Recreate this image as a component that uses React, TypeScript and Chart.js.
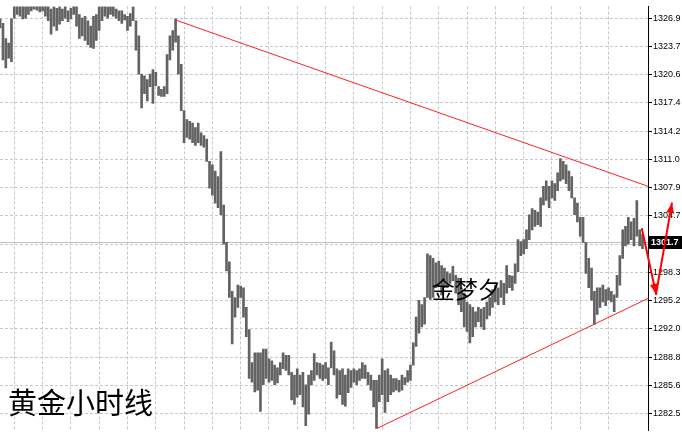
import React, { useEffect, useRef } from "react";
import { Chart, registerables } from "chart.js";

Chart.register(...registerables);

// Hourly gold bars (high / low), one per hour, oldest first
const barHigh = [
  1326.8, 1326.3, 1324.6, 1324.1, 1326.8, 1328.5, 1328.8, 1328.6, 1328.4, 1328.5,
  1328.7, 1329.0, 1329.2, 1329.0, 1328.8, 1328.9, 1328.7, 1328.4, 1327.9, 1328.2,
  1328.0, 1328.2, 1327.9, 1328.3, 1327.7, 1328.0, 1328.3, 1328.4, 1327.3, 1326.9,
  1327.1, 1326.6, 1326.0, 1327.1, 1327.3, 1328.2, 1328.5, 1328.4, 1328.2, 1328.2,
  1328.2, 1327.9, 1327.7, 1327.7, 1327.3, 1327.1, 1327.4, 1328.2, 1326.6, 1324.9,
  1320.6, 1320.4, 1320.0, 1320.6, 1321.1, 1320.8, 1319.2, 1318.9, 1319.2, 1322.8,
  1324.9, 1325.5, 1326.8, 1324.9, 1321.7, 1316.5, 1315.5, 1315.3, 1315.1, 1314.6,
  1315.1, 1314.0, 1313.7, 1313.3, 1310.8, 1310.4, 1309.7, 1309.1, 1311.9, 1305.9,
  1301.7, 1299.5, 1296.2, 1295.5, 1296.9, 1296.8, 1296.6, 1294.4, 1291.9, 1288.2,
  1289.3, 1289.3, 1289.3, 1289.7, 1289.7, 1288.6, 1288.4, 1287.9, 1287.6, 1288.2,
  1289.3, 1289.0, 1289.0, 1287.1, 1286.8, 1287.5, 1286.8, 1287.1, 1285.7, 1286.8,
  1287.3, 1289.2, 1288.2, 1288.1, 1287.9, 1288.2, 1287.6, 1290.5, 1289.5, 1287.5,
  1287.3, 1287.5, 1286.8, 1287.5, 1287.3, 1287.5, 1287.3, 1287.5, 1288.2, 1287.9,
  1287.1, 1286.8, 1286.2, 1286.2, 1286.8, 1288.6, 1287.3, 1287.5, 1286.8, 1286.4,
  1286.4, 1286.2, 1286.8, 1286.5, 1287.3, 1287.9, 1290.4, 1293.3, 1295.2, 1294.7,
  1295.5, 1300.4, 1300.2, 1299.9, 1299.4, 1299.6, 1299.1, 1298.8, 1298.4, 1298.2,
  1299.0, 1298.0, 1297.7, 1296.6, 1296.0, 1295.0, 1294.7, 1294.4, 1293.9, 1294.4,
  1294.2, 1294.4, 1295.0, 1295.5, 1296.4, 1296.9, 1296.6, 1297.4, 1297.1, 1299.1,
  1298.0, 1297.9, 1299.3, 1302.0, 1301.8, 1302.0, 1303.1, 1304.8, 1305.5, 1305.3,
  1305.1, 1306.7, 1308.0, 1308.6, 1308.0, 1308.6, 1308.3, 1309.5, 1311.1, 1310.8,
  1310.4, 1309.7, 1309.1, 1306.7, 1306.1, 1304.5, 1304.5, 1301.7, 1299.9, 1298.8,
  1296.2, 1296.6, 1296.6, 1296.9, 1296.4, 1296.6, 1296.2, 1295.8, 1298.0, 1300.2,
  1303.1, 1303.5, 1304.5, 1304.0, 1304.4, 1306.4, 1303.1, 1302.6,
];

const barLow = [
  1325.8, 1322.2, 1321.3, 1322.4, 1322.0, 1326.9, 1327.3, 1327.1, 1326.8, 1326.9,
  1327.3, 1327.7, 1327.9, 1327.8, 1327.6, 1327.7, 1327.1, 1326.6, 1325.1, 1326.0,
  1325.5, 1326.2, 1326.6, 1326.9, 1326.5, 1326.8, 1327.3, 1326.0, 1324.6, 1324.9,
  1324.4, 1323.9, 1323.6, 1323.5, 1324.4, 1325.5, 1326.6, 1327.1, 1326.9, 1327.3,
  1327.1, 1326.9, 1326.6, 1326.3, 1326.7, 1325.5, 1326.0, 1326.6, 1323.3, 1320.6,
  1316.8, 1318.4, 1317.6, 1319.2, 1317.3, 1319.3, 1318.2, 1318.1, 1318.1, 1318.4,
  1322.2, 1323.3, 1324.2, 1320.6, 1316.5, 1312.9, 1313.5, 1313.3, 1312.9, 1312.6,
  1312.9, 1312.6, 1312.4, 1310.8, 1307.8, 1307.0, 1306.1, 1305.6, 1304.8, 1301.5,
  1298.5, 1295.5, 1290.3, 1293.3, 1294.4, 1295.5, 1293.3, 1291.1, 1286.4, 1286.0,
  1284.9, 1285.1, 1282.7, 1285.7, 1286.4, 1286.0, 1286.2, 1285.7, 1285.9, 1286.8,
  1287.5, 1287.3, 1286.8, 1284.0, 1283.5, 1284.3, 1284.6, 1283.2, 1281.1, 1282.4,
  1285.7, 1286.2, 1286.8, 1286.4, 1286.2, 1286.4, 1285.7, 1287.6, 1286.8, 1284.2,
  1284.6, 1283.5, 1283.3, 1284.8, 1285.4, 1286.0, 1285.7, 1286.2, 1286.4, 1286.4,
  1285.7, 1285.1, 1283.2, 1280.8, 1283.8, 1284.6, 1282.6, 1283.8, 1284.6, 1284.9,
  1285.1, 1284.9, 1285.1, 1285.7, 1286.0, 1286.2, 1287.9, 1290.0, 1291.5, 1292.2,
  1292.5, 1295.5, 1295.3, 1295.5, 1296.6, 1296.8, 1295.8, 1296.6, 1296.6, 1297.1,
  1297.4, 1296.0, 1294.7, 1293.9, 1292.2, 1291.7, 1290.4, 1291.1, 1292.2, 1292.8,
  1292.2, 1291.9, 1293.1, 1293.5, 1294.4, 1295.0, 1294.7, 1295.5, 1294.7, 1296.0,
  1296.6, 1296.3, 1297.1, 1298.4, 1300.2, 1300.4, 1301.0, 1302.0, 1303.1, 1303.5,
  1303.7, 1303.5, 1305.9, 1306.4, 1305.6, 1306.7, 1306.4, 1307.5, 1308.6, 1308.8,
  1308.3, 1307.5, 1306.7, 1304.8, 1304.0, 1302.4, 1301.7, 1298.2, 1296.6, 1295.2,
  1292.5, 1293.6, 1294.4, 1295.0, 1294.6, 1295.2, 1295.0, 1293.9, 1295.5, 1296.9,
  1299.9, 1301.3, 1301.5, 1302.0, 1301.3, 1302.4, 1301.3, 1301.0,
];

const priceTicks = [
  1326.9, 1323.7, 1320.6, 1317.4, 1314.2, 1311.0, 1307.9, 1304.7,
  1301.5, 1298.3, 1295.2, 1292.0, 1288.8, 1285.6, 1282.5,
];
const timeGridBars = [5, 15, 25, 35, 45, 55, 65, 75, 85, 95, 105, 115, 125, 135, 145, 155, 165, 175, 185, 195, 205, 215];
const currentPrice = 1301.7;

// annotation points: [bar index, price]
const upperTrend = [[61.8, 1326.7], [228.95, 1308.0]];
const lowerTrend = [[133.2, 1280.8], [228.95, 1295.4]];
const arrowPath = [[226.8, 1303.2], [231.8, 1295.9], [237.4, 1306.1]];
const titleText = "黄金小时线";
const watermarkText = "金梦夕";
const watermarkPos = [152.5, 1296.4];

const X_MIN = -0.05;
const X_MAX = 228.95;
const Y_MIN = 1280.55;
const Y_MAX = 1328.21;

function drawArrowHead(ctx: CanvasRenderingContext2D, fx: number, fy: number, tx: number, ty: number) {
  const ang = Math.atan2(ty - fy, tx - fx);
  const len = 10;
  const half = 4;
  const bx = tx - len * Math.cos(ang);
  const by = ty - len * Math.sin(ang);
  ctx.beginPath();
  ctx.moveTo(tx, ty);
  ctx.lineTo(bx + half * Math.sin(ang), by - half * Math.cos(ang));
  ctx.lineTo(bx - half * Math.sin(ang), by + half * Math.cos(ang));
  ctx.closePath();
  ctx.fill();
}

const overlayPlugin = {
  id: "overlay",
  beforeDatasetsDraw(chart: any) {
    const { ctx, chartArea, scales } = chart;
    const py = Math.round(scales.y.getPixelForValue(currentPrice)) + 0.5;
    ctx.save();
    ctx.strokeStyle = "#c0c0c0";
    ctx.lineWidth = 1;
    ctx.beginPath();
    ctx.moveTo(chartArea.left, py);
    ctx.lineTo(chartArea.right, py);
    ctx.stroke();
    ctx.restore();
  },
  afterDatasetsDraw(chart: any) {
    const { ctx, chartArea, scales } = chart;
    const { x, y } = scales;
    ctx.save();
    ctx.beginPath();
    ctx.rect(chartArea.left, chartArea.top, chartArea.right - chartArea.left, chartArea.bottom - chartArea.top);
    ctx.clip();
    ctx.strokeStyle = "#ff2020";
    ctx.lineWidth = 1;
    for (const line of [upperTrend, lowerTrend]) {
      ctx.beginPath();
      ctx.moveTo(x.getPixelForValue(line[0][0]), y.getPixelForValue(line[0][1]));
      ctx.lineTo(x.getPixelForValue(line[1][0]), y.getPixelForValue(line[1][1]));
      ctx.stroke();
    }
    ctx.fillStyle = "#000";
    ctx.textBaseline = "middle";
    ctx.textAlign = "left";
    ctx.font = '23px "Noto Sans CJK SC"';
    ctx.fillText(watermarkText, x.getPixelForValue(watermarkPos[0]), y.getPixelForValue(watermarkPos[1]));
    ctx.font = '29px "Noto Sans CJK SC"';
    ctx.fillText(titleText, chartArea.left + 8, chartArea.bottom - 28);
    ctx.restore();
  },
  afterDraw(chart: any) {
    const { ctx, chartArea, scales, width } = chart;
    const { x, y } = scales;
    const py = Math.round(y.getPixelForValue(currentPrice));
    ctx.save();
    ctx.fillStyle = "#000";
    ctx.fillRect(chartArea.right + 1, py - 6, width - chartArea.right - 1, 13);
    ctx.fillStyle = "#fff";
    ctx.font = 'bold 9px "Liberation Sans"';
    ctx.textBaseline = "middle";
    ctx.textAlign = "left";
    ctx.fillText(currentPrice.toFixed(1), chartArea.right + 3, py + 1);

    const pts = arrowPath.map((p) => [x.getPixelForValue(p[0]), y.getPixelForValue(p[1])]);
    ctx.strokeStyle = "#ff0000";
    ctx.fillStyle = "#ff0000";
    ctx.lineWidth = 2;
    ctx.lineCap = "round";
    for (let i = 0; i < pts.length - 1; i++) {
      const [fx, fy] = pts[i];
      const [tx, ty] = pts[i + 1];
      ctx.beginPath();
      ctx.moveTo(fx, fy);
      ctx.lineTo(tx, ty);
      ctx.stroke();
      drawArrowHead(ctx, fx, fy, tx, ty);
    }
    ctx.restore();
  },
};

export default function App() {
  const canvasRef = useRef<HTMLCanvasElement | null>(null);

  useEffect(() => {
    if (!canvasRef.current) return;
    const data = barHigh.map((h, i) => ({ x: i, y: [barLow[i], h] }));
    const chart = new Chart(canvasRef.current, {
      type: "bar",
      data: {
        datasets: [
          {
            data: data as any,
            backgroundColor: "#636363",
            borderWidth: 0,
            borderSkipped: false,
            barThickness: 2,
          } as any,
        ],
      },
      options: {
        animation: false,
        responsive: false,
        maintainAspectRatio: false,
        devicePixelRatio: 1,
        layout: { padding: 0 },
        plugins: { legend: { display: false }, tooltip: { enabled: false } },
        events: [],
        scales: {
          x: {
            type: "linear",
            offset: false,
            min: X_MIN,
            max: X_MAX,
            afterBuildTicks: (s: any) => {
              s.ticks = timeGridBars.map((v) => ({ value: v }));
            },
            afterFit: (s: any) => {
              s.height = 0;
            },
            ticks: { display: false },
            grid: { color: "#c8c8c8", lineWidth: 1, drawTicks: false, offset: false },
            border: { display: false, dash: [3, 2] },
          },
          y: {
            position: "right",
            min: Y_MIN,
            max: Y_MAX,
            afterBuildTicks: (s: any) => {
              s.ticks = priceTicks.map((v) => ({ value: v }));
            },
            afterFit: (s: any) => {
              s.width = 34;
            },
            ticks: {
              autoSkip: false,
              maxRotation: 0,
              padding: 1,
              color: "#000",
              font: { family: "Liberation Sans", size: 9 },
              callback: (v: any) => Number(v).toFixed(1),
            },
            grid: {
              color: "#c8c8c8",
              lineWidth: 1,
              tickLength: 4,
              tickColor: "#000",
              tickWidth: 1,
              tickBorderDash: [],
            } as any,
            border: { display: true, color: "#000", width: 1, dash: [3, 2] },
          },
        },
      } as any,
      plugins: [overlayPlugin],
    });
    return () => chart.destroy();
  }, []);

  return (
    <div style={{ position: "fixed", left: 0, top: 0, width: 682, height: 437, background: "#fff" }}>
      <canvas ref={canvasRef} width={682} height={437} style={{ display: "block" }} />
    </div>
  );
}
